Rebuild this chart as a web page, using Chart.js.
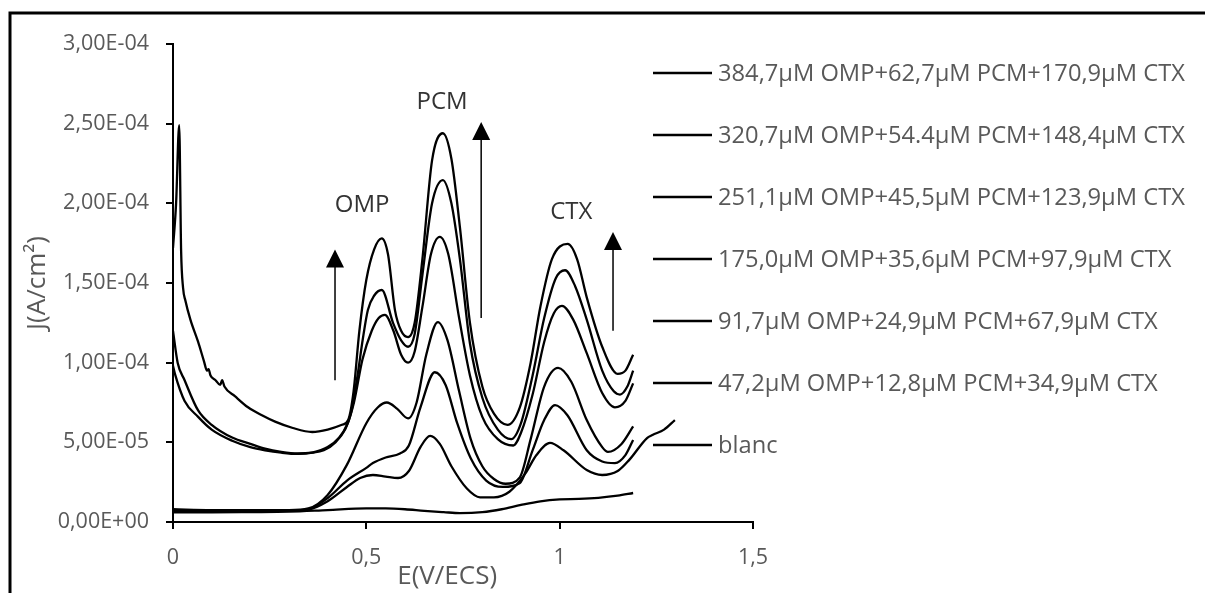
<!DOCTYPE html>
<html>
<head>
<meta charset="utf-8">
<script src="https://cdn.jsdelivr.net/npm/chart.js@4.4.1/dist/chart.umd.min.js"></script>
<style>
  html, body { margin: 0; padding: 0; background: #fff; }
  #wrap { width: 1205px; height: 593px; }
</style>
</head>
<body>
<div id="wrap"><canvas id="myChart" width="1205" height="593"></canvas></div>
<script>
// legend labels, top to bottom
const seriesLabels = [
  "384,7µM OMP+62,7µM PCM+170,9µM CTX",
  "320,7µM OMP+54.4µM PCM+148,4µM CTX",
  "251,1µM OMP+45,5µM PCM+123,9µM CTX",
  "175,0µM OMP+35,6µM PCM+97,9µM CTX",
  "91,7µM OMP+24,9µM PCM+67,9µM CTX",
  "47,2µM OMP+12,8µM PCM+34,9µM CTX",
  "blanc"
];

// [E (V/ECS), J (µA/cm²)]
const c384 = [[0,172],[0.008,200],[0.016,249],[0.021,170],[0.026,147],[0.032,139],[0.045,127],[0.065,113],[0.08,101],[0.088,95],[0.092,96],[0.097,92],[0.11,89],[0.122,86],[0.127,89],[0.133,85],[0.16,79],[0.194,72],[0.23,67],[0.264,63],[0.31,59],[0.36,56.5],[0.4,58],[0.437,61],[0.453,64],[0.467,82],[0.482,120],[0.5,152],[0.52,171],[0.54,178],[0.556,168],[0.574,133],[0.59,120],[0.608,116],[0.625,125],[0.645,165],[0.67,227],[0.698,244],[0.72,228],[0.742,185],[0.768,125],[0.8,85],[0.83,68],[0.865,61],[0.897,72],[0.925,100],[0.95,135],[0.98,165],[1.021,174.5],[1.045,165],[1.07,141],[1.11,110],[1.15,93],[1.17,95],[1.19,105]];
const c320 = [[0,120],[0.012,100],[0.03,89],[0.065,70],[0.1,61],[0.153,53],[0.2,49],[0.238,46],[0.28,44],[0.323,43],[0.36,43.5],[0.39,45],[0.42,50],[0.445,58],[0.46,68],[0.476,90],[0.491,115],[0.504,133],[0.52,142],[0.54,145.6],[0.569,125],[0.59,114],[0.608,110],[0.625,118],[0.645,155],[0.67,200],[0.698,214.6],[0.72,200],[0.742,165],[0.768,112],[0.8,78],[0.84,58],[0.875,52],[0.9,62],[0.93,92],[0.96,128],[0.99,153],[1.014,158],[1.04,148],[1.07,127],[1.11,95],[1.14,82],[1.156,80],[1.175,85],[1.19,95]];
const c251 = [[0,98],[0.005,93],[0.03,76],[0.065,66],[0.1,58],[0.153,51],[0.2,47],[0.238,45],[0.28,43.5],[0.323,42.7],[0.36,43.5],[0.4,47],[0.43,53],[0.45,61],[0.468,75],[0.49,102],[0.514,120],[0.532,128],[0.548,130],[0.57,120],[0.59,105],[0.608,100],[0.625,107],[0.645,135],[0.667,168],[0.69,179],[0.712,168],[0.74,128],[0.768,92],[0.8,66],[0.84,52],[0.88,48],[0.9,56],[0.93,80],[0.96,113],[0.985,131],[1.006,135.6],[1.035,127],[1.07,106],[1.11,81],[1.143,72],[1.17,76],[1.19,87]];
const c175 = [[0,8],[0.1,7.5],[0.2,7.5],[0.3,7.5],[0.35,8.5],[0.4,17],[0.45,36],[0.5,62],[0.53,72],[0.553,75],[0.58,71],[0.608,65],[0.63,75],[0.655,105],[0.685,125.5],[0.71,114],[0.74,82],[0.77,52],[0.8,35],[0.83,27],[0.86,24],[0.897,28],[0.925,52],[0.96,85],[0.996,96.7],[1.03,88],[1.07,64],[1.11,47],[1.125,44],[1.16,49],[1.19,60]];
const c92 = [[0,7.5],[0.1,7],[0.2,7],[0.3,7],[0.35,8],[0.4,15],[0.45,26],[0.5,34],[0.517,37],[0.55,40.5],[0.587,43],[0.61,48],[0.64,72],[0.677,94],[0.705,86],[0.735,62],[0.77,40],[0.81,26],[0.853,22],[0.897,24.5],[0.93,45],[0.96,64],[0.988,73.4],[1.02,67],[1.07,45],[1.11,38],[1.143,37],[1.17,42],[1.19,51.5]];
const c47 = [[0,7],[0.1,7],[0.2,7],[0.3,7.2],[0.35,7.8],[0.4,13],[0.45,22],[0.484,27.6],[0.517,29.5],[0.55,28.5],[0.582,27.6],[0.61,32],[0.64,47],[0.665,54],[0.69,49],[0.72,35],[0.76,21],[0.794,15.5],[0.83,15.5],[0.87,19],[0.91,30],[0.94,42],[0.975,49.6],[1.01,45],[1.07,32.6],[1.11,29.5],[1.15,32],[1.18,39],[1.226,52.7],[1.24,54.6],[1.27,58],[1.298,64]];
const cBlanc = [[0,6],[0.1,6],[0.2,6.2],[0.3,6.5],[0.4,7.5],[0.5,8.5],[0.55,8.5],[0.6,8],[0.65,7],[0.7,6.2],[0.742,5.6],[0.8,6.2],[0.85,8],[0.9,10.7],[0.95,13],[1.0,14.2],[1.05,14.5],[1.1,15.2],[1.15,16.5],[1.19,18.2]];

const xTicks = [0, 0.5, 1, 1.5];
const yTicks = [0, 5e-5, 1e-4, 1.5e-4, 2e-4, 2.5e-4, 3e-4];

// peak annotations: label, E, J, arrow E, arrow bottom J, arrow top J
const peakNames = ["OMP", "PCM", "CTX"];
const peakLabelPos = [[0.489, 199e-6], [0.696, 263.6e-6], [1.03, 194.6e-6]];
const arrowPos = [[0.419, 89e-6, 171e-6], [0.797, 128e-6, 251e-6], [1.138, 120e-6, 182e-6]];

const allSeries = [c384, c320, c251, c175, c92, c47, cBlanc];

const grey = "#595959";
const fontFam = "'Open Sans', sans-serif";

function sciComma(v) {
  const s = Math.abs(v) < 1e-12 ? (0).toExponential(2) : v.toExponential(2);
  const [m, e] = s.split("e");
  const sign = e[0] === "-" ? "-" : "+";
  const d = e.replace(/[+-]/, "").padStart(2, "0");
  return m.replace(".", ",") + "E" + sign + d;
}

const framePlugin = {
  id: "frame",
  beforeDraw(chart) {
    const ctx = chart.ctx;
    ctx.save();
    ctx.fillStyle = "#fff";
    ctx.fillRect(0, 0, chart.width, chart.height);
    ctx.strokeStyle = "#000";
    ctx.lineWidth = 3;
    ctx.beginPath();
    ctx.moveTo(10, chart.height);
    ctx.lineTo(10, 13);
    ctx.lineTo(chart.width, 13);
    ctx.stroke();
    ctx.restore();
  }
};

const notesPlugin = {
  id: "notes",
  afterDatasetsDraw(chart) {
    const ctx = chart.ctx;
    const xs = chart.scales.x, ys = chart.scales.y;
    ctx.save();
    ctx.fillStyle = "#333";
    ctx.font = "24px " + fontFam;
    ctx.textAlign = "center";
    ctx.textBaseline = "middle";
    peakNames.forEach((n, i) => {
      ctx.fillText(n, xs.getPixelForValue(peakLabelPos[i][0]), ys.getPixelForValue(peakLabelPos[i][1]));
    });
    ctx.strokeStyle = "#000";
    ctx.fillStyle = "#000";
    ctx.lineWidth = 1.5;
    arrowPos.forEach(a => {
      const x = xs.getPixelForValue(a[0]);
      const y0 = ys.getPixelForValue(a[1]);
      const y1 = ys.getPixelForValue(a[2]);
      ctx.beginPath();
      ctx.moveTo(x, y0);
      ctx.lineTo(x, y1 + 10);
      ctx.stroke();
      ctx.beginPath();
      ctx.moveTo(x, y1);
      ctx.lineTo(x - 9, y1 + 18);
      ctx.lineTo(x + 9, y1 + 18);
      ctx.closePath();
      ctx.fill();
    });

    // x axis title, centred a little left of the axis middle as in the original
    ctx.fillStyle = grey;
    ctx.font = "26px " + fontFam;
    ctx.fillText("E(V/ECS)", xs.getPixelForValue(0.709), 577);
    ctx.restore();
  },
  afterDraw(chart) {
    const ctx = chart.ctx;
    ctx.save();
    ctx.font = "23.7px " + fontFam;
    ctx.textBaseline = "middle";
    ctx.textAlign = "left";
    seriesLabels.forEach((lab, i) => {
      const y = 73 + i * 62;
      ctx.strokeStyle = "#000";
      ctx.lineWidth = 2.5;
      ctx.beginPath();
      ctx.moveTo(653, y);
      ctx.lineTo(712, y);
      ctx.stroke();
      ctx.fillStyle = grey;
      ctx.fillText(lab, 718, y + 1);
    });
    ctx.restore();
  }
};

const ctx = document.getElementById("myChart").getContext("2d");

const data = {
  datasets: allSeries.map((s, i) => ({
    label: seriesLabels[i],
    data: s.map(p => ({ x: p[0], y: p[1] * 1e-6 })),
    borderColor: "#000",
    borderWidth: 2.3,
    pointRadius: 0,
    fill: false,
    cubicInterpolationMode: "monotone"
  }))
};

const config = {
  type: "line",
  data: data,
  options: {
    responsive: false,
    animation: false,
    layout: { padding: { left: 0, right: 452, top: 44, bottom: 0 } },
    plugins: { legend: { display: false }, tooltip: { enabled: false } },
    scales: {
      x: {
        type: "linear",
        min: 0,
        max: 1.5,
        afterFit: s => { s.height = 71; },
        afterBuildTicks: s => { s.ticks = xTicks.map(v => ({ value: v })); },
        grid: { drawOnChartArea: false, color: "#000", lineWidth: 2, tickLength: 7 },
        border: { color: "#000", width: 2 },
        ticks: {
          color: grey,
          font: { family: fontFam, size: 21.5 },
          padding: 16,
          maxRotation: 0,
          callback: v => String(v).replace(".", ",")
        }
      },
      y: {
        min: 0,
        max: 3e-4,
        afterFit: s => { s.width = 173; },
        afterBuildTicks: s => { s.ticks = yTicks.map(v => ({ value: v })); },
        grid: { drawOnChartArea: false, color: "#000", lineWidth: 2, tickLength: 7 },
        border: { color: "#000", width: 2 },
        ticks: {
          color: grey,
          font: { family: fontFam, size: 21.5 },
          padding: 17,
          callback: v => sciComma(v)
        },
        title: {
          display: true,
          text: "J(A/cm²)",
          color: grey,
          font: { family: fontFam, size: 26 },
          padding: { top: 22, bottom: 0 }
        }
      }
    }
  },
  plugins: [framePlugin, notesPlugin]
};

const myLineChart = new Chart(ctx, config);
</script>
</body>
</html>
